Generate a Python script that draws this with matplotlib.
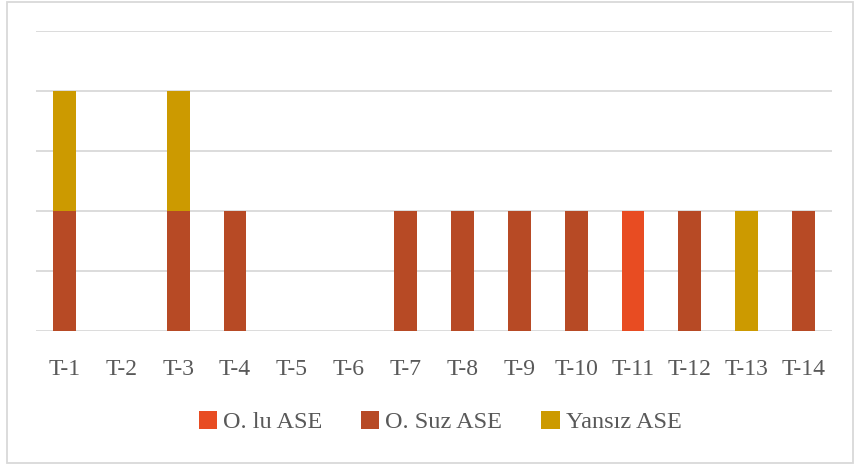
import matplotlib.pyplot as plt
import numpy as np
from matplotlib.patches import Rectangle

# Data
kategori = ['T-1', 'T-2', 'T-3', 'T-4', 'T-5', 'T-6', 'T-7',
            'T-8', 'T-9', 'T-10', 'T-11', 'T-12', 'T-13', 'T-14']
o_lu = [0, 0, 0, 0, 0, 0, 0, 0, 0, 0, 2, 0, 0, 0]
o_suz = [2, 0, 2, 2, 0, 0, 2, 2, 2, 2, 0, 2, 0, 2]
yansiz = [2, 0, 2, 0, 0, 0, 0, 0, 0, 0, 0, 0, 2, 0]
seri = ['O. lu ASE', 'O. Suz ASE', 'Yansız ASE']
warna = ['#E84C22', '#B74A25', '#CC9A00']

plt.rcParams['font.family'] = ['Liberation Serif', 'DejaVu Serif']

fig = plt.figure(figsize=(8.56, 4.65), dpi=100)
ax = fig.add_axes([36/856, 1-331/465, 796/856, 300/465])

x = np.arange(len(kategori))
bawah = np.zeros(len(kategori))
for nilai, nama, c in zip([o_lu, o_suz, yansiz], seri, warna):
    nilai = np.array(nilai)
    ax.bar(x, nilai, 0.4, bottom=bawah, color=c, label=nama, zorder=3)
    bawah += nilai

ax.set_xlim(-0.5, len(kategori) - 0.5)
ax.set_ylim(0, 5)
ax.set_yticks(np.arange(0, 6, 1))
ax.yaxis.grid(True, color='#D9D9D9', linewidth=1.3, zorder=0)
ax.tick_params(axis='y', left=False, labelleft=False)
ax.tick_params(axis='x', length=0, pad=20, labelsize=17, labelcolor='#595959')
ax.set_xticks(x)
ax.set_xticklabels(kategori)
for s in ax.spines.values():
    s.set_visible(False)

leg = fig.legend(loc='center', bbox_to_anchor=(440/856, 1-422/465), ncol=3,
                 frameon=False, fontsize=17.5, handlelength=0.75, handleheight=0.75,
                 handletextpad=0.25, columnspacing=1.6)
for t in leg.get_texts():
    t.set_color('#595959')

# Bingkai luar
fig.patches.append(Rectangle((6.5/856, 2/465), 846/856, 461/465, transform=fig.transFigure,
                             fill=False, edgecolor='#D9D9D9', linewidth=1.3))

fig.savefig('out.png', dpi=100)
